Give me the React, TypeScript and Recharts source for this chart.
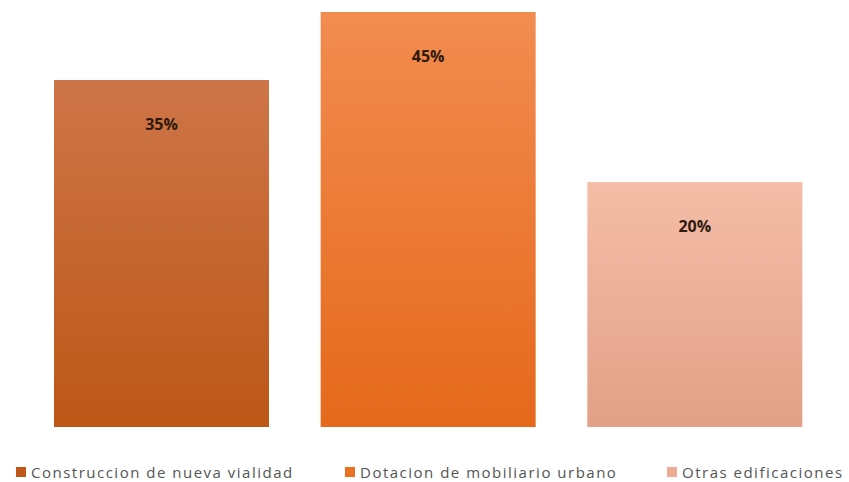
import React from "react";
import { BarChart, Bar, XAxis, YAxis, Cell, LabelList } from "recharts";

const categories = ["Construccion de nueva vialidad", "Dotacion de mobiliario urbano", "Otras edificaciones"];
const shares = [35, 45, 20];
// hidden value axis of the original does not start at zero
const AXIS_MIN = -16;
const AXIS_MAX = 45;

const GRADIENTS = [
  { id: "g0", top: "#CE7548", bottom: "#BC5717", swatch: "#C0581A" },
  { id: "g1", top: "#F28C50", bottom: "#E5691B", swatch: "#E8701F" },
  { id: "g2", top: "#F5BDA7", bottom: "#E1A087", swatch: "#ECAD95" },
];

const data = categories.map((name, i) => ({ name, value: shares[i], range: [AXIS_MIN, shares[i]] }));

const PercentLabel = (props: any) => {
  const { x, y, width, index } = props;
  return (
    <text
      x={x + width / 2}
      y={y + 46}
      textAnchor="middle"
      dominantBaseline="middle"
      fontFamily="'Open Sans', sans-serif"
      fontWeight={700}
      fontSize={16}
      fill="#2E1A10"
    >
      {shares[index]}%
    </text>
  );
};

export default function App() {
  return (
    <div style={{ position: "absolute", left: 0, top: 0, width: 849, height: 482, background: "#fff" }}>
      <BarChart
        width={849}
        height={482}
        data={data}
        margin={{ top: 12, right: 21, left: 28, bottom: 55 }}
        barSize={215}
      >
        <defs>
          {GRADIENTS.map((g) => (
            <linearGradient key={g.id} id={g.id} x1="0" y1="0" x2="0" y2="1">
              <stop offset="0%" stopColor={g.top} />
              <stop offset="100%" stopColor={g.bottom} />
            </linearGradient>
          ))}
        </defs>
        <XAxis dataKey="name" hide />
        <YAxis hide domain={[AXIS_MIN, AXIS_MAX]} />
        <Bar dataKey="range" isAnimationActive={false}>
          {data.map((d, i) => (
            <Cell key={d.name} fill={`url(#${GRADIENTS[i].id})`} />
          ))}
          <LabelList dataKey="value" content={<PercentLabel />} />
        </Bar>
      </BarChart>
      <div
        style={{
          position: "absolute",
          top: 462,
          left: 0,
          width: 849,
          height: 20,
          fontFamily: "'Open Sans', sans-serif",
          fontSize: 15,
          color: "#555",
        }}
      >
        {categories.map((c, i) => (
          <div
            key={c}
            style={{
              position: "absolute",
              left: [16, 345, 667][i],
              top: 0,
              height: 20,
              display: "flex",
              alignItems: "center",
              whiteSpace: "nowrap",
              letterSpacing: 1.5,
            }}
          >
            <span style={{ width: 10, height: 10, background: GRADIENTS[i].swatch, marginRight: 5, display: "inline-block" }} />
            {c}
          </div>
        ))}
      </div>
    </div>
  );
}
